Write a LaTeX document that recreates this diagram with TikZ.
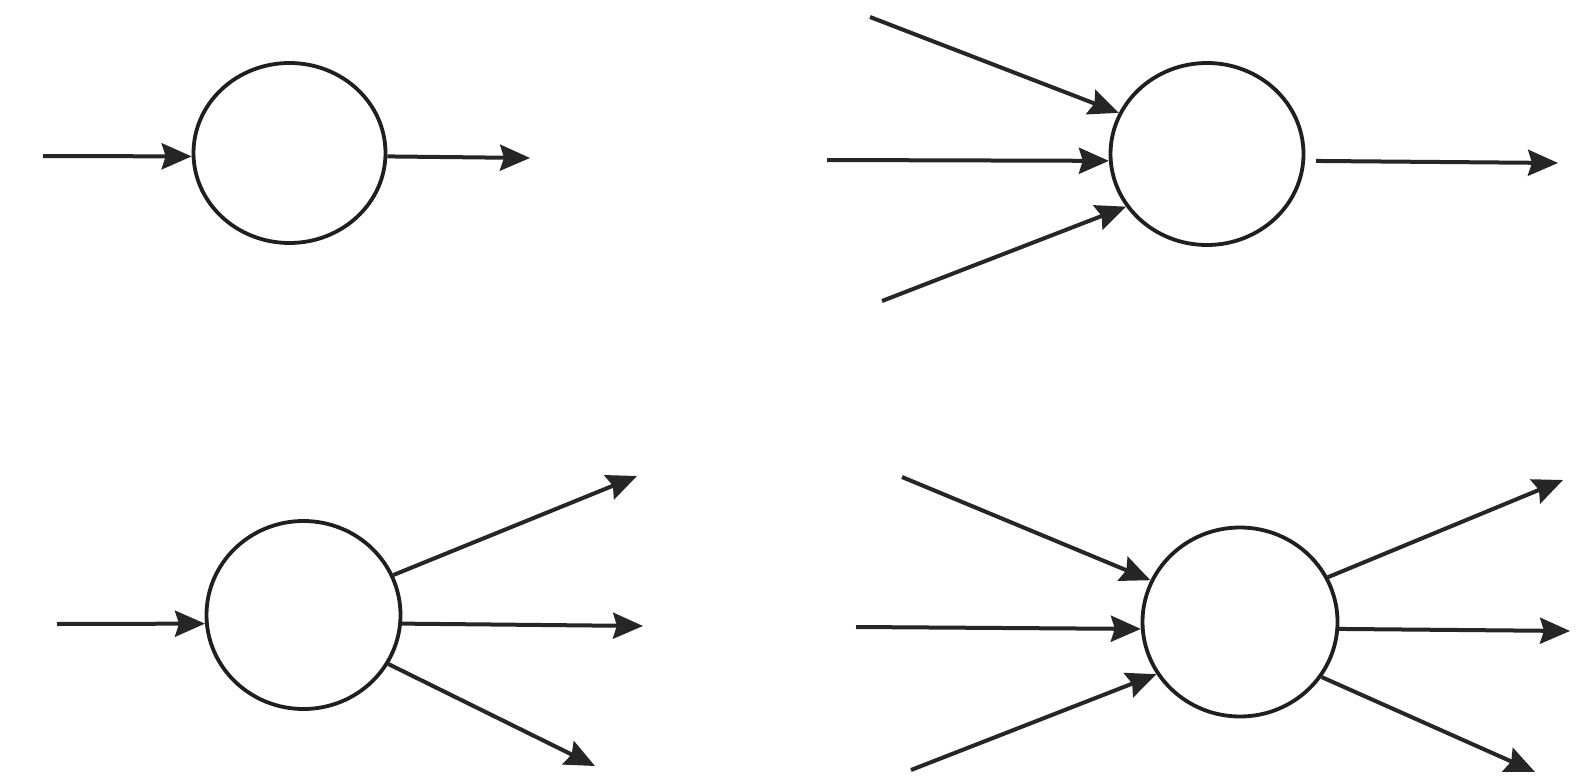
\documentclass[tikz,border=0pt]{standalone}
\usetikzlibrary{shapes.geometric,arrows.meta}
\begin{document}
\begin{tikzpicture}[x=1pt,y=1pt,
  unit/.style={draw=black!88, line width=3.8pt, shape=ellipse, inner sep=0pt},
  arr/.style={draw=black!85, line width=4pt,
    -{Stealth[length=30pt,width=26pt,inset=4pt]}}]
\fill[white] (0,0) rectangle (1576,-778);
\useasboundingbox (0,0) rectangle (1576,-778);
% diagram 1
\node[unit, minimum width=192pt, minimum height=180pt] (c1) at (289.5,-153) {};
\coordinate (a1) at (43,-156);
\coordinate (b1) at (530,-158);
\draw[arr] (a1) -- (c1.182);
\draw[arr] (c1.358) -- (b1);
% diagram 2
\node[unit, minimum width=193pt, minimum height=182pt] (c2) at (1207,-154) {};
\coordinate (a21) at (870,-17);
\coordinate (a22) at (827,-160);
\coordinate (a23) at (882,-301);
\coordinate (b2) at (1558,-163);
\draw[arr] (a21) -- (c2.155);
\draw[arr] (a22) -- (c2.184);
\draw[arr] (a23) -- (c2.213);
\draw[arr, shorten <=11pt] (c2.356) -- (b2);
% diagram 3
\node[unit, minimum width=194pt, minimum height=188pt] (c3) at (303.5,-615) {};
\coordinate (a3) at (57,-624);
\coordinate (b31) at (637,-476);
\coordinate (b32) at (643,-626);
\coordinate (b33) at (595,-766);
\draw[arr] (a3) -- (c3.185);
\draw[arr] (c3.24) -- (b31);
\draw[arr] (c3.355) -- (b32);
\draw[arr] (c3.330) -- (b33);
% diagram 4
\node[unit, minimum width=195pt, minimum height=189pt] (c4) at (1240,-622) {};
\coordinate (a41) at (902,-477);
\coordinate (a42) at (856,-627);
\coordinate (a43) at (911,-770);
\coordinate (b41) at (1563,-480);
\coordinate (b42) at (1570,-631);
\coordinate (b43) at (1535,-772);
\draw[arr] (a41) -- (c4.155);
\draw[arr] (a42) -- (c4.184);
\draw[arr] (a43) -- (c4.212);
\draw[arr] (c4.27) -- (b41);
\draw[arr] (c4.356) -- (b42);
\draw[arr] (c4.326) -- (b43);
\end{tikzpicture}
\end{document}
